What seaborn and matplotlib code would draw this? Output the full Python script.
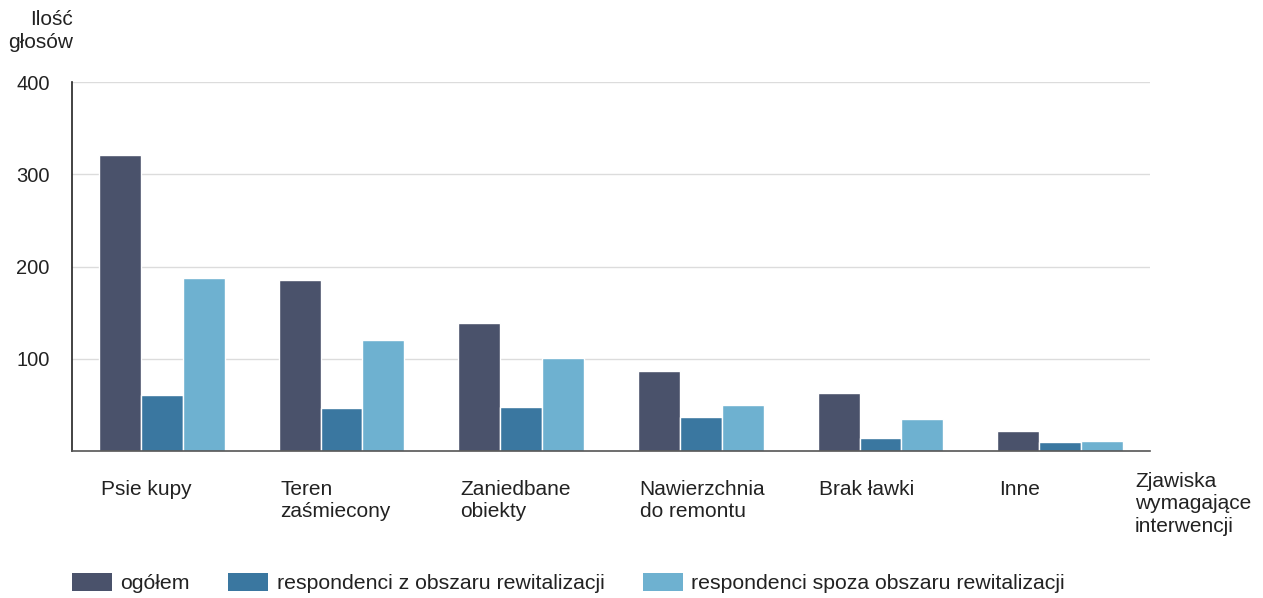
import numpy as np
import pandas as pd
import matplotlib
matplotlib.use("Agg")
import matplotlib.pyplot as plt
from matplotlib.patches import Patch
import seaborn as sns

categories = ["Psie kupy", "Teren\nzaśmiecony", "Zaniedbane\nobiekty",
              "Nawierzchnia\ndo remontu", "Brak ławki", "Inne"]
series_names = ["ogółem", "respondenci z obszaru rewitalizacji",
                "respondenci spoza obszaru rewitalizacji"]
ogolem = [321, 185, 139, 87, 63, 22]
z_obszaru = [61, 47, 48, 37, 14, 10]
spoza_obszaru = [188, 120, 101, 50, 35, 11]
y_ticks = [100, 200, 300, 400]
colors = ["#4a526b", "#3a77a0", "#6eb1d0"]

sns.set_theme(style="white")
plt.rcParams["font.family"] = ["Liberation Sans", "DejaVu Sans"]

rows = []
for name, vals in zip(series_names, [ogolem, z_obszaru, spoza_obszaru]):
    for cat, v in zip(categories, vals):
        rows.append({"kategoria": cat, "seria": name, "glosy": v})
df = pd.DataFrame(rows)

fig = plt.figure(figsize=(12.63, 5.98), dpi=100)
ax = fig.add_axes([72 / 1263, 1 - 451 / 598, (1150 - 72) / 1263, (451 - 82) / 598])

sns.barplot(data=df, x="kategoria", y="glosy", hue="seria", order=categories,
            hue_order=series_names, palette=colors, width=0.7, dodge=True,
            edgecolor="white", linewidth=1, saturation=1, ax=ax, legend=False)

ax.set_xlim(-0.5, len(categories) - 0.5)
ax.set_ylim(0, 400)
ax.set_yticks(y_ticks)
ax.set_yticklabels([str(t) for t in y_ticks], fontsize=14.5, color="#222222")
ax.tick_params(axis="y", length=0, pad=16)
ax.yaxis.grid(True, color="#dcdcdc", linewidth=1)
ax.set_axisbelow(True)

ax.set_xticks(np.arange(len(categories)) - 0.34)
ax.set_xticklabels(categories, fontsize=15, color="#222222", ha="left", va="top",
                   linespacing=1.22)
ax.tick_params(axis="x", length=0, pad=21)
ax.set_xlabel("")
ax.set_ylabel("")

for side in ["top", "right"]:
    ax.spines[side].set_visible(False)
ax.spines["left"].set_color("#222222")
ax.spines["left"].set_linewidth(1.2)
ax.spines["bottom"].set_color("#555555")
ax.spines["bottom"].set_linewidth(1.2)

fig.text(73 / 1263, 1 - 10 / 598, "Ilość\ngłosów", ha="right", va="top",
         fontsize=15, color="#222222", linespacing=1.3)
fig.text(1135 / 1263, 1 - 472 / 598, "Zjawiska\nwymagające\ninterwencji",
         ha="left", va="top", fontsize=15, color="#222222", linespacing=1.22)

handles = [Patch(facecolor=c, edgecolor="none") for c in colors]
fig.legend(handles, series_names, loc="center left",
           bbox_to_anchor=(72 / 1263, 1 - 583 / 598), ncol=3, frameon=False,
           fontsize=15.3, handlelength=1.88, handleheight=0.95, handletextpad=0.4,
           columnspacing=1.8, borderpad=0, borderaxespad=0,
           labelcolor="#222222")

fig.savefig("out.png", dpi=100)
